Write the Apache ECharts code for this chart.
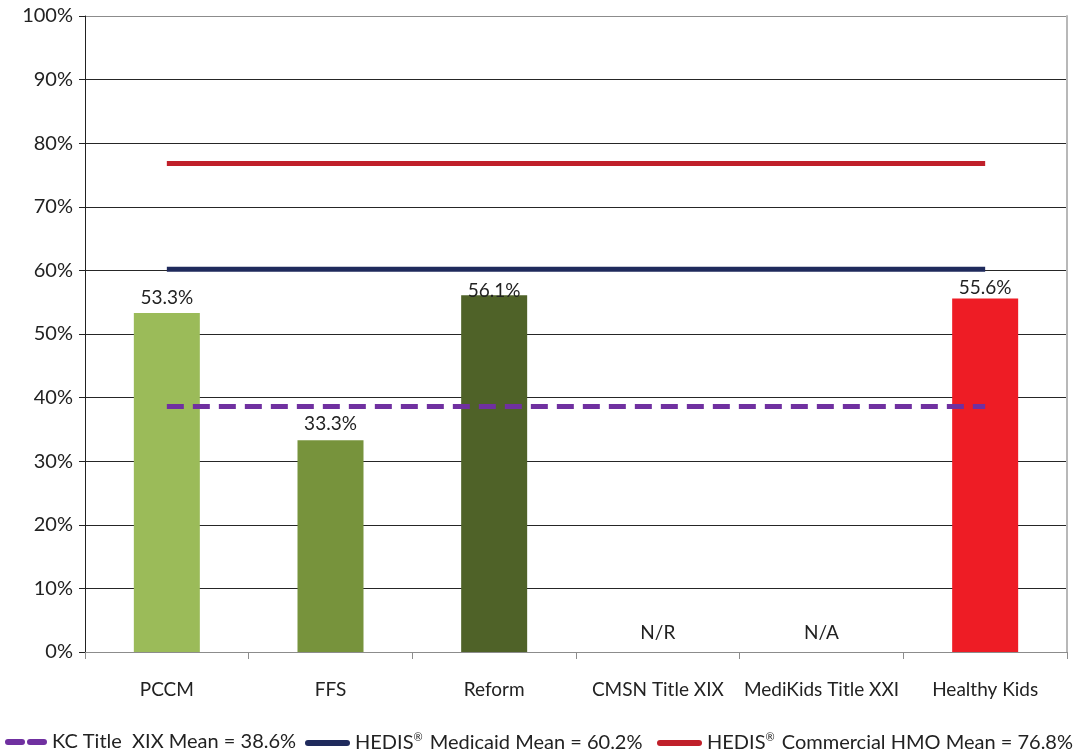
<!DOCTYPE html>
<html><head><meta charset="utf-8">
<script src="https://cdn.jsdelivr.net/npm/echarts@6/dist/echarts.min.js"></script>
<style>html,body{margin:0;padding:0;background:#fff}#c{width:1080px;height:752px}</style>
</head><body><div id="c"></div>
<script>
const categories = ['PCCM', 'FFS', 'Reform', 'CMSN Title XIX', 'MediKids Title XXI', 'Healthy Kids'];
const barValues = [53.3, 33.3, 56.1, 0, 0, 55.6];
const barLabels = ['53.3%', '33.3%', '56.1%', 'N/R', 'N/A', '55.6%'];
const barColors = ['#9BBB59', '#77933C', '#4F6228', '#9BBB59', '#9BBB59', '#EE1C25'];
const kcMean = 38.6;
const medicaidMean = 60.2;
const commercialMean = 76.8;
const seriesNames = ['KC Title  XIX Mean = 38.6%', 'HEDIS{sup|®} Medicaid Mean = 60.2%', 'HEDIS{sup|®} Commercial HMO Mean = 76.8%'];

const font = 'Lato, "Open Sans", sans-serif';
const chart = echarts.init(document.getElementById('c'));
const flat = v => categories.map(() => v);
const gridColors = [0,1,2,3,4,5,6,7,8,9,10].map(i => i === 10 ? '#8c8c8c' : '#262626');
const labelDistance = [6, 7, -5, 0, 0, 1];
const txt = { fontFamily: font, fontSize: 19, color: '#222' };
const legendText = Object.assign({}, txt, { fontSize: 20,
  rich: { sup: { fontFamily: font, fontSize: 11, color: '#222', verticalAlign: 'top', padding: [0, 2, 11, 0] } }
});
const dashIcon = 'path://M3,0 H17 A3,3 0 0 1 17,6 H3 A3,3 0 0 1 3,0 Z M25,0 H39 A3,3 0 0 1 39,6 H25 A3,3 0 0 1 25,0 Z';
const barIcon = 'path://M3,0 H42 A3,3 0 0 1 42,6 H3 A3,3 0 0 1 3,0 Z';
chart.setOption({
  animation: false,
  grid: { left: 85, right: 13, top: 16, bottom: 100 },
  legend: [
    { left: 0, top: 727, itemWidth: 42, itemHeight: 6, icon: dashIcon, textStyle: legendText, data: [seriesNames[0]] },
    { left: 300, top: 727, itemWidth: 45, itemHeight: 6, icon: barIcon, textStyle: legendText, data: [seriesNames[1]] },
    { left: 652, top: 727, itemWidth: 45, itemHeight: 6, icon: barIcon, textStyle: legendText, data: [seriesNames[2]] }
  ],
  xAxis: {
    type: 'category', data: categories,
    axisLine: { lineStyle: { color: '#8c8c8c', width: 1 } },
    axisTick: { show: true, length: 7, lineStyle: { color: '#8c8c8c' } },
    axisLabel: Object.assign({ margin: 28, interval: 0 }, txt)
  },
  yAxis: [{
    type: 'value', min: 0, max: 100, interval: 10,
    axisLine: { show: true, lineStyle: { color: '#222' } },
    axisTick: { show: true, length: 6, lineStyle: { color: '#222' } },
    axisLabel: Object.assign({ formatter: '{value}%', margin: 12 }, txt, { fontSize: 20 }),
    splitLine: { show: true, lineStyle: { color: gridColors, width: 1 } }
  }, {
    type: 'value', min: 0, max: 100, interval: 10, position: 'right',
    axisLine: { show: true, lineStyle: { color: '#b8b8b8', width: 2 } },
    axisTick: { show: false }, axisLabel: { show: false }, splitLine: { show: false }
  }],
  series: [
    {
      type: 'bar', barWidth: 66, z: 2,
      data: barValues.map((v, i) => ({ value: v, itemStyle: { color: barColors[i] },
        label: { distance: labelDistance[i] } })),
      label: Object.assign({ show: true, position: 'top', formatter: p => barLabels[p.dataIndex] }, txt),
      labelLayout: p => barValues[p.dataIndex] === 0 ? { dy: -10 } : {}
    },
    {
      name: seriesNames[0], type: 'line', data: flat(kcMean), symbol: 'none', z: 5,
      lineStyle: { color: '#7030A0', width: 5, type: [17, 9] }, itemStyle: { color: '#7030A0' }
    },
    {
      name: seriesNames[1], type: 'line', data: flat(medicaidMean), symbol: 'none', z: 5,
      lineStyle: { color: '#1F2A5C', width: 5 }, itemStyle: { color: '#1F2A5C' }
    },
    {
      name: seriesNames[2], type: 'line', data: flat(commercialMean), symbol: 'none', z: 5,
      lineStyle: { color: '#C0202A', width: 5 }, itemStyle: { color: '#C0202A' }
    }
  ]
});
</script></body></html>
